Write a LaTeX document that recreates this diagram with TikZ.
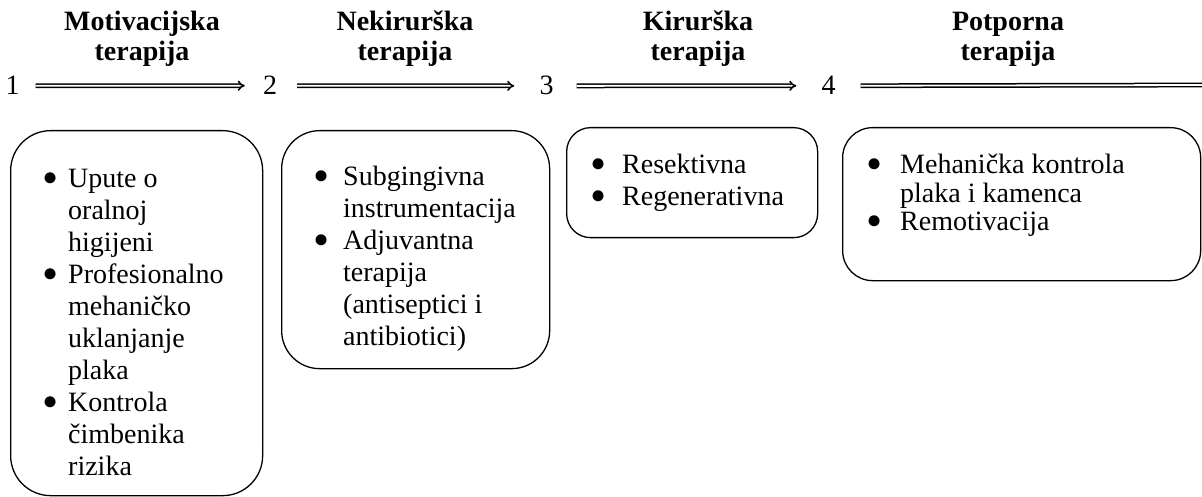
\documentclass[tikz,border=0pt]{standalone}
\usepackage{fontspec}
\setmainfont{Liberation Serif}
\usetikzlibrary{positioning,arrows.meta}

\newcommand{\bul}{\raisebox{-6pt}{\fontsize{46}{32}\selectfont\textbullet}}

\begin{document}
\begin{tikzpicture}[x=1pt,y=-1pt,
head/.style={
  font=\fontsize{28}{30}\selectfont\bfseries,
  align=center,
  inner sep=0pt},
num/.style={
  font=\fontsize{28}{32}\selectfont,
  inner sep=0pt},
dblarrow/.style={
  double,
  double distance=1.8pt,
  line width=1.5pt,
  -{Implies[length=10pt,width=18pt]}},
dblline/.style={
  double,
  double distance=1.8pt,
  line width=1.5pt},
box/.style={
  draw,
  line width=1.3pt,
  rounded corners=#1,
  anchor=north west,
  inner sep=0pt},
blist/.style={
  font=\fontsize{28}{32}\selectfont,
  inner sep=0pt}
]
\useasboundingbox (0,0) rectangle (1202,497);
% headers
\node[head,anchor=base] (h1) at (142,61) {Motivacijska\\terapija};
\node[head,anchor=base] (h2) at (405,61) {Nekirurška\\terapija};
\node[head,anchor=base] (h3) at (698,61) {Kirurška\\terapija};
\node[head,anchor=base] (h4) at (1008,61) {Potporna\\terapija};
% steps
\node[num,anchor=base] (n1) at (12.5,95) {1};
\node[num,anchor=base] (n2) at (270,95) {2};
\node[num,anchor=base] (n3) at (546.5,95) {3};
\node[num,anchor=base] (n4) at (828.5,95) {4};
\coordinate (lend) at (1206,85);
\draw[dblarrow,shorten <=16pt,shorten >=18pt] (n1.east) -- (n2.west);
\draw[dblarrow,shorten <=20pt,shorten >=25pt] (n2.east) -- (n3.west);
\draw[dblarrow,shorten <=23pt,shorten >=25pt] (n3.east) -- (n4.west);
\draw[dblline,shorten <=25pt] (n4.east) -- (lend);
% boxes
\node[box=40pt,minimum width=252pt,minimum height=365pt] (b1) at (10,130) {};
\node[box=38pt,minimum width=268pt,minimum height=238pt] (b2) at (281,130) {};
\node[box=24pt,minimum width=251pt,minimum height=110pt] (b3) at (566,127) {};
\node[box=30pt,minimum width=358pt,minimum height=153pt] (b4) at (842,127) {};
\node[blist,below right=35pt and 32pt of b1.north west] (l1) {%
  \begin{tabular}{@{}p{26pt}@{}l@{}}
  \bul & Upute o\\
  & oralnoj\\
  & higijeni\\
  \bul & Profesionalno\\
  & mehaničko\\
  & uklanjanje\\
  & plaka\\
  \bul & Kontrola\\
  & čimbenika\\
  & rizika
  \end{tabular}};
\node[blist,below right=33pt and 32pt of b2.north west] (l2) {%
  \begin{tabular}{@{}p{30pt}@{}l@{}}
  \bul & Subgingivna\\
  & instrumentacija\\
  \bul & Adjuvantna\\
  & terapija\\
  & (antiseptici i\\
  & antibiotici)
  \end{tabular}};
\node[blist,below right=24pt and 24pt of b3.north west] (l3) {%
  \begin{tabular}{@{}p{32pt}@{}l@{}}
  \bul & Resektivna\\
  \bul & Regenerativna
  \end{tabular}};
\node[blist,below right=26pt and 24pt of b4.north west] (l4) {%
  \renewcommand{\arraystretch}{0.9}%
  \begin{tabular}{@{}p{34pt}@{}l@{}}
  \bul & Mehanička kontrola\\
  & plaka i kamenca\\
  \bul & Remotivacija
  \end{tabular}};
\end{tikzpicture}
\end{document}
